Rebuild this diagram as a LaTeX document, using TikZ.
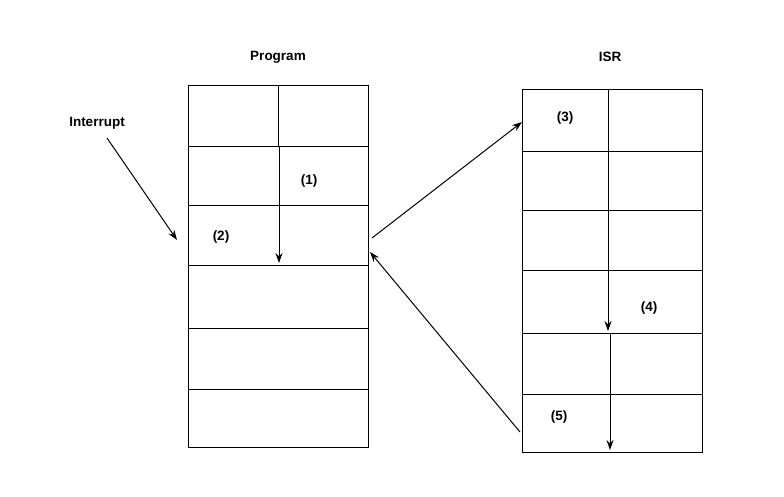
\documentclass[tikz,border=0pt]{standalone}
\usepackage{fontspec}
\setmainfont{Liberation Sans}
\usetikzlibrary{arrows.meta}
\begin{document}
\begin{tikzpicture}[x=1pt,y=-1pt,line width=1pt,
  lbl/.style={font=\bfseries\fontsize{13.5}{16}\selectfont},
  arr/.style={-{Stealth[length=10pt,width=7pt]}}]
\useasboundingbox (0,0) rectangle (784,497);
\node[draw,minimum width=180pt,minimum height=362pt,anchor=north west,inner sep=0] (P) at (188,85) {};
\foreach \y in {147,206,265,328,389} \draw (188,\y) -- (368,\y);
\node[draw,minimum width=180pt,minimum height=363pt,anchor=north west,inner sep=0] (I) at (522,89) {};
\foreach \y in {152,211,270,333,394} \draw (522,\y) -- (702,\y);
\draw (278,85) -- (278,147);
\coordinate (p1) at (279,147); \coordinate (p2) at (279,263);
\draw[arr] (p1) -- (p2);
\draw (608,89) -- (608,270);
\coordinate (i1) at (608,270); \coordinate (i2) at (608,331);
\draw[arr] (i1) -- (i2);
\coordinate (i3) at (610,333); \coordinate (i4) at (610,450);
\draw[arr] (i3) -- (i4);
\node[lbl] (tp) at (278,57) {Program};
\node[lbl] (ti) at (610,57) {ISR};
\node[lbl] (int) at (97,123) {Interrupt};
\coordinate (ie) at (177,240);
\draw[arr] (107,138) -- (ie);
\coordinate (a1) at (372,238); \coordinate (a2) at (522,122);
\draw[arr] (a1) -- (a2);
\coordinate (b1) at (520,432); \coordinate (b2) at (370,252);
\draw[arr] (b1) -- (b2);
\node[lbl] (n1) at (309,181) {(1)};
\node[lbl] (n2) at (221,237) {(2)};
\node[lbl] (n3) at (565,118) {(3)};
\node[lbl] (n4) at (649,308) {(4)};
\node[lbl] (n5) at (559,417) {(5)};
\end{tikzpicture}
\end{document}
